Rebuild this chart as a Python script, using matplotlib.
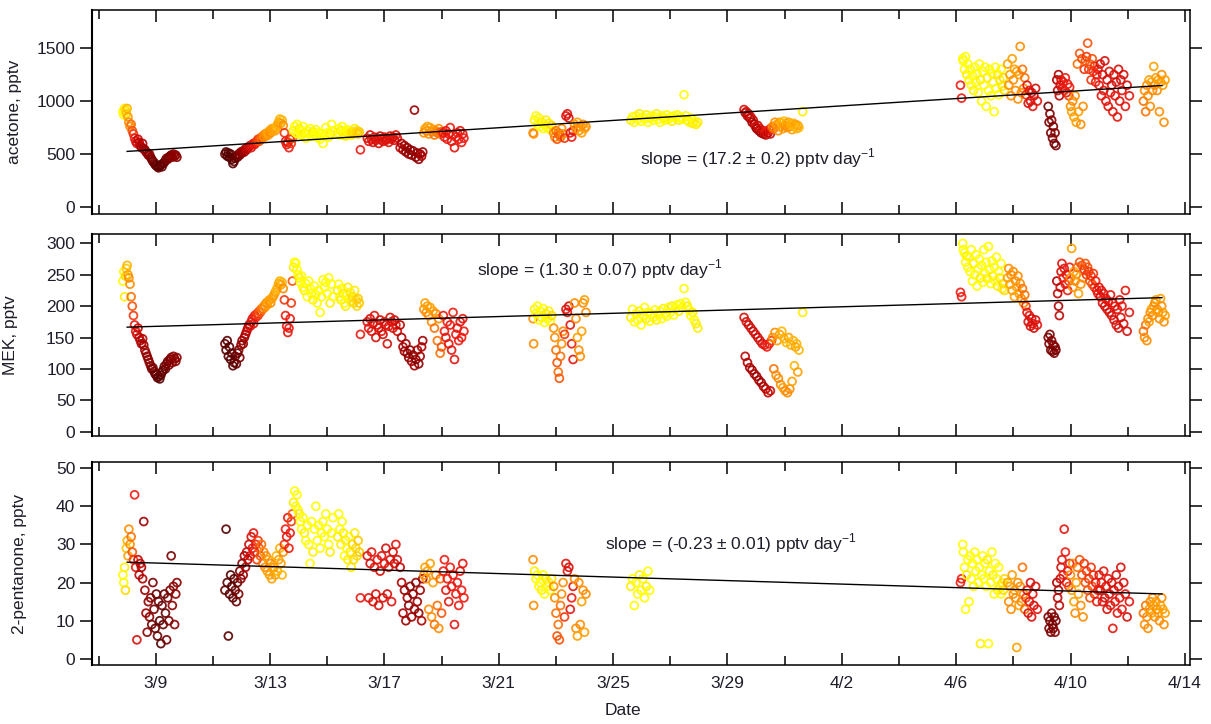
import numpy as np
import matplotlib
matplotlib.use("Agg")
import matplotlib.pyplot as plt
from matplotlib.colors import LinearSegmentedColormap

NA = np.nan

# sample time as day number counted from March 1 (4/1 = 32)
day = [
    # 3/8 - 3/9
    7.85, 7.88, 7.91, 7.94, 7.97, 8.00, 8.03, 8.06, 8.10, 8.14,
    8.18, 8.22, 8.26, 8.30, 8.34, 8.38, 8.42, 8.46, 8.50, 8.54,
    8.58, 8.62, 8.66, 8.70, 8.74, 8.78, 8.82, 8.86, 8.90, 8.94,
    8.98, 9.02, 9.06, 9.10, 9.14, 9.18, 9.22, 9.26, 9.30, 9.34,
    9.38, 9.42, 9.46, 9.50, 9.54, 9.58, 9.62, 9.66, 9.70, 9.74,
    # 3/11 - 3/13
    11.42, 11.46, 11.50, 11.54, 11.58, 11.62, 11.66, 11.70, 11.74, 11.78,
    11.82, 11.86, 11.90, 11.94, 11.98, 12.02, 12.06, 12.10, 12.14, 12.18,
    12.22, 12.26, 12.30, 12.34, 12.38, 12.42, 12.46, 12.50, 12.54, 12.58,
    12.62, 12.66, 12.70, 12.74, 12.78, 12.82, 12.86, 12.90, 12.94, 12.98,
    13.02, 13.06, 13.10, 13.14, 13.18, 13.22, 13.26, 13.30, 13.34, 13.38,
    13.42, 13.46, 13.50, 13.54, 13.58, 13.62, 13.66, 13.70, 13.74, 13.78,
    # 3/13 - 3/16
    13.82, 13.86, 13.90, 13.94, 13.98, 14.02, 14.06, 14.10, 14.15, 14.20,
    14.25, 14.30, 14.35, 14.40, 14.45, 14.50, 14.55, 14.60, 14.65, 14.70,
    14.75, 14.80, 14.85, 14.90, 14.95, 15.00, 15.05, 15.10, 15.15, 15.20,
    15.36, 15.40, 15.44, 15.48, 15.52, 15.56, 15.60, 15.64, 15.68, 15.72,
    15.76, 15.80, 15.84, 15.88, 15.92, 15.96, 16.00, 16.04, 16.08, 16.12,
    # 3/16 - 3/18
    16.16, 16.40, 16.45, 16.50, 16.55, 16.60, 16.65, 16.70, 16.75, 16.80,
    16.85, 16.90, 16.95, 17.00, 17.05, 17.10, 17.15, 17.20, 17.25, 17.30,
    17.35, 17.40, 17.45, 17.55, 17.60, 17.65, 17.70, 17.75, 17.80, 17.85,
    17.90, 17.95, 18.00, 18.05, 18.10, 18.15, 18.20, 18.25, 18.30, 18.34,
    # 3/18 - 3/19
    18.38, 18.42, 18.46, 18.50, 18.55, 18.60, 18.65, 18.70, 18.75, 18.80,
    18.85, 18.90, 18.95, 19.00, 19.06, 19.10, 19.15, 19.20, 19.25, 19.30,
    19.35, 19.40, 19.45, 19.50, 19.55, 19.60, 19.65, 19.70, 19.74, 19.78,
    # 3/22 - 3/24
    22.20, 22.22, 22.25, 22.30, 22.35, 22.40, 22.45, 22.50, 22.55, 22.60,
    22.65, 22.70, 22.75, 22.80, 22.85, 22.92, 22.96, 23.00, 23.04, 23.08,
    23.12, 23.16, 23.20, 23.25, 23.30, 23.35, 23.40, 23.45, 23.50, 23.55,
    23.60, 23.65, 23.70, 23.75, 23.80, 23.85, 23.90, 23.95, 24.00, 24.05,
    # 3/25 - 3/27
    25.62, 25.68, 25.74, 25.80, 25.86, 25.92, 25.98, 26.04, 26.10, 26.16,
    26.22, 26.28, 26.34, 26.40, 26.46, 26.52, 26.58, 26.64, 26.70, 26.76,
    26.82, 26.88, 26.94, 27.00, 27.06, 27.12, 27.18, 27.24, 27.30, 27.36,
    27.42, 27.48, 27.54, 27.60, 27.66, 27.72, 27.78, 27.84, 27.90, 27.96,
    # 3/29 - 3/31
    29.58, 29.62, 29.66, 29.70, 29.74, 29.78, 29.82, 29.86, 29.90, 29.94,
    29.98, 30.02, 30.06, 30.10, 30.14, 30.18, 30.22, 30.26, 30.30, 30.34,
    30.38, 30.42, 30.46, 30.50, 30.54, 30.58, 30.62, 30.66, 30.70, 30.74,
    30.78, 30.82, 30.86, 30.90, 30.94, 30.98, 31.02, 31.06, 31.10, 31.14,
    31.18, 31.22, 31.26, 31.30, 31.34, 31.38, 31.42, 31.46, 31.50, 31.63,
    # 4/6 - 4/7
    37.15, 37.19, 37.23, 37.25, 37.29, 37.33, 37.37, 37.41, 37.45, 37.49,
    37.53, 37.57, 37.61, 37.65, 37.69, 37.73, 37.77, 37.81, 37.85, 37.89,
    37.93, 37.97, 38.01, 38.05, 38.09, 38.13, 38.17, 38.21, 38.25, 38.29,
    38.33, 38.37, 38.41, 38.45, 38.49, 38.53, 38.57, 38.61, 38.65, 38.69,
    # 4/7 - 4/9
    38.80, 38.84, 38.88, 38.92, 38.96, 39.00, 39.04, 39.08, 39.12, 39.16,
    39.20, 39.24, 39.28, 39.32, 39.36, 39.40, 39.44, 39.48, 39.52, 39.56,
    39.60, 39.64, 39.68, 39.72, 39.78, 39.84, 40.22, 40.25, 40.28, 40.31,
    40.34, 40.37, 40.40, 40.43, 40.46, 40.49, 40.52, 40.55, 40.58, 40.61,
    40.64, 40.67, 40.70, 40.74, 40.78, 40.82, 40.86, 40.90, 40.94, 40.97,
    # 4/10 - 4/12
    41.00, 41.04, 41.08, 41.12, 41.16, 41.20, 41.24, 41.28, 41.32, 41.36,
    41.40, 41.44, 41.48, 41.52, 41.56, 41.60, 41.64, 41.68, 41.72, 41.76,
    41.80, 41.84, 41.88, 41.92, 41.96, 42.00, 42.04, 42.08, 42.12, 42.16,
    42.20, 42.24, 42.28, 42.32, 42.36, 42.40, 42.44, 42.48, 42.52, 42.56,
    42.60, 42.64, 42.68, 42.72, 42.76, 42.80, 42.86, 42.92, 42.98, 43.06,
    # 4/12 - 4/13
    43.55, 43.59, 43.63, 43.67, 43.71, 43.75, 43.79, 43.83, 43.87, 43.91,
    43.95, 43.99, 44.03, 44.07, 44.11, 44.15, 44.19, 44.23, 44.27, 44.31,
]

# colour variable of each sample (0 = yellow ... 1 = darkest red)
shade = [
    0.00, 0.00, 0.05, 0.10, 0.15, 0.20, 0.25, 0.30, 0.30, 0.35,
    0.40, 0.45, 0.50, 0.55, 0.60, 0.65, 0.70, 0.70, 0.75, 0.75,
    0.80, 0.80, 0.80, 0.85, 0.85, 0.85, 0.85, 0.90, 0.90, 0.90,
    0.95, 0.95, 0.95, 0.95, 1.00, 1.00, 0.95, 0.95, 0.95, 0.95,
    0.90, 0.90, 0.90, 0.90, 0.90, 0.85, 0.85, 0.85, 0.85, 0.85,

    0.95, 1.00, 1.00, 1.00, 1.00, 1.00, 1.00, 1.00, 1.00, 0.95,
    0.95, 0.95, 0.90, 0.90, 0.85, 0.85, 0.80, 0.80, 0.75, 0.70,
    0.70, 0.65, 0.60, 0.60, 0.55, 0.55, 0.50, 0.50, 0.45, 0.45,
    0.40, 0.40, 0.35, 0.35, 0.30, 0.30, 0.30, 0.25, 0.25, 0.25,
    0.30, 0.25, 0.25, 0.25, 0.25, 0.20, 0.20, 0.25, 0.20, 0.25,
    0.20, 0.30, 0.45, 0.50, 0.55, 0.55, 0.50, 0.50, 0.45, 0.40,

    0.05, 0.00, 0.00, 0.00, 0.00, 0.05, 0.00, 0.00, 0.00, 0.05,
    0.00, 0.00, 0.00, 0.00, 0.00, 0.05, 0.00, 0.00, 0.00, 0.00,
    0.00, 0.00, 0.00, 0.00, 0.00, 0.00, 0.00, 0.05, 0.00, 0.00,
    0.05, 0.00, 0.00, 0.05, 0.00, 0.05, 0.00, 0.05, 0.00, 0.05,
    0.00, 0.05, 0.05, 0.10, 0.10, 0.05, 0.10, 0.10, 0.15, 0.15,

    0.50, 0.55, 0.55, 0.60, 0.55, 0.60, 0.55, 0.60, 0.55, 0.60,
    0.60, 0.55, 0.60, 0.55, 0.60, 0.60, 0.55, 0.60, 0.55, 0.60,
    0.60, 0.55, 0.60, 0.70, 0.75, 0.75, 0.80, 0.80, 0.80, 0.85,
    0.85, 0.80, 0.85, 0.80, 0.85, 0.80, 0.85, 0.80, 0.75, 0.80,

    0.30, 0.25, 0.30, 0.25, 0.30, 0.25, 0.30, 0.25, 0.35, 0.30,
    0.35, 0.30, 0.35, 0.40, 0.50, 0.50, 0.55, 0.50, 0.55, 0.50,
    0.55, 0.50, 0.55, 0.50, 0.55, 0.50, 0.55, 0.50, 0.55, 0.50,

    0.30, 0.30, 0.05, 0.00, 0.00, 0.00, 0.00, 0.05, 0.00, 0.00,
    0.05, 0.00, 0.05, 0.00, 0.10, 0.30, 0.30, 0.35, 0.40, 0.35,
    0.40, 0.35, 0.30, 0.30, 0.45, 0.55, 0.55, 0.60, 0.55, 0.50,
    0.55, 0.30, 0.30, 0.25, 0.30, 0.30, 0.25, 0.30, 0.25, 0.30,

    0.05, 0.00, 0.00, 0.00, 0.00, 0.05, 0.00, 0.00, 0.00, 0.05,
    0.00, 0.00, 0.00, 0.00, 0.00, 0.05, 0.00, 0.00, 0.00, 0.05,
    0.00, 0.00, 0.00, 0.00, 0.05, 0.00, 0.00, 0.00, 0.05, 0.00,
    0.00, 0.00, 0.00, 0.05, 0.00, 0.00, 0.05, 0.00, 0.05, 0.05,

    0.60, 0.70, 0.60, 0.75, 0.65, 0.75, 0.60, 0.80, 0.65, 0.75,
    0.60, 0.80, 0.65, 0.75, 0.60, 0.80, 0.60, 0.75, 0.55, 0.70,
    0.50, 0.70, 0.50, 0.65, 0.45, 0.30, 0.35, 0.30, 0.30, 0.25,
    0.30, 0.25, 0.30, 0.20, 0.25, 0.20, 0.30, 0.20, 0.30, 0.25,
    0.30, 0.20, 0.25, 0.20, 0.20, 0.25, 0.20, 0.25, 0.20, 0.05,

    0.50, 0.50, 0.00, 0.00, 0.00, 0.00, 0.05, 0.00, 0.00, 0.00,
    0.00, 0.00, 0.05, 0.00, 0.00, 0.00, 0.00, 0.00, 0.05, 0.00,
    0.00, 0.00, 0.00, 0.00, 0.05, 0.00, 0.00, 0.00, 0.00, 0.05,
    0.00, 0.00, 0.00, 0.05, 0.00, 0.05, 0.00, 0.05, 0.10, 0.10,

    0.25, 0.30, 0.25, 0.30, 0.25, 0.30, 0.25, 0.30, 0.25, 0.30,
    0.25, 0.30, 0.30, 0.35, 0.30, 0.35, 0.45, 0.55, 0.60, 0.55,
    0.60, 0.60, 0.55, 0.60, 0.60, 0.55, 0.90, 0.90, 0.90, 0.90,
    0.85, 0.90, 0.90, 0.90, 0.85, 0.90, 0.75, 0.70, 0.75, 0.70,
    0.65, 0.60, 0.55, 0.50, 0.55, 0.50, 0.55, 0.50, 0.45, 0.50,

    0.30, 0.25, 0.30, 0.25, 0.30, 0.25, 0.35, 0.25, 0.40, 0.30,
    0.40, 0.30, 0.45, 0.40, 0.45, 0.40, 0.45, 0.40, 0.45, 0.40,
    0.45, 0.45, 0.50, 0.50, 0.50, 0.55, 0.60, 0.55, 0.60, 0.55,
    0.60, 0.55, 0.60, 0.55, 0.60, 0.55, 0.60, 0.55, 0.60, 0.55,
    0.60, 0.55, 0.60, 0.55, 0.60, 0.55, 0.60, 0.55, 0.60, 0.55,

    0.35, 0.30, 0.35, 0.30, 0.30, 0.25, 0.30, 0.25, 0.30, 0.25,
    0.30, 0.25, 0.30, 0.25, 0.30, 0.25, 0.30, 0.25, 0.30, 0.25,
]

acetone = [
    900, 870, 930, 910, 880, 930, 850, 800, 760, 780,
    720, 690, 650, 620, 600, 640, 610, 580, 560, 600,
    550, 540, 520, 510, 490, 500, 470, 450, 430, 420,
    400, 390, 380, 370, 385, 400, 380, 410, 420, 440,
    460, 450, 470, 480, 490, 470, 500, 480, 490, 470,

    500, 520, 480, 510, 470, 500, 450, 410, 430, 460,
    480, 470, 500, 490, 520, 510, 530, 520, 550, 540,
    560, 570, 580, 560, 590, 600, 590, 610, 620, 640,
    620, 650, 640, 670, 660, 690, 670, 700, 680, 720,
    700, 740, 720, 740, 720, 760, 780, 800, 830, 790,
    820, 770, 700, 620, 590, 610, 560, 640, 600, 650,

    720, 760, 700, 780, 690, 740, 720, 680, 760, 700,
    650, 720, 690, 740, 670, 710, 680, 730, 660, 700,
    640, 690, 600, 680, 750, 700, 660, 690, 780, 720,
    700, 740, 680, 720, 760, 690, 710, 670, 730, 690,
    720, 700, 680, 710, 690, 740, 700, 720, 690, 710,

    540, 650, 620, 680, 640, 610, 660, 630, 650, 600,
    670, 640, 620, 660, 630, 650, 610, 670, 640, 660,
    630, 680, 650, 560, 600, 540, 580, 520, 560, 500,
    540, 490, 530, 915, 470, 510, 450, 500, 480, 520,

    700, 740, 720, 760, 690, 750, 710, 730, 680, 720,
    700, 740, 690, 710, 700, 660, 720, 640, 690, 750,
    620, 680, 560, 660, 700, 640, 720, 610, 690, 650,

    700, 690, 820, 860, 780, 840, 760, 800, 740, 780,
    820, 750, 790, 730, 770, 700, 660, 720, 640, 700,
    680, 660, 740, 690, 650, 860, 880, 840, 700, 660,
    720, 780, 740, 800, 720, 760, 700, 780, 740, 760,

    820, 850, 800, 860, 830, 880, 810, 850, 830, 870,
    800, 840, 860, 820, 850, 880, 830, 800, 860, 840,
    820, 870, 830, 850, 810, 860, 840, 870, 820, 850,
    830, 1060, 860, 820, 800, 840, 790, 810, 780, 800,

    920, 890, 900, 860, 880, 840, 850, 800, 820, 780,
    760, 740, 770, 720, 740, 700, 720, 690, 710, 680,
    720, 700, 730, 690, 750, 760, 740, 800, 770, 780,
    720, 800, 760, 790, 740, 810, 770, 790, 750, 800,
    760, 780, 730, 790, 760, 780, 740, 770, 750, 900,

    1150, 1028, 1400, 1380, 1300, 1420, 1250, 1350, 1200, 1300,
    1150, 1240, 1100, 1320, 1180, 1260, 1080, 1350, 1200, 1000,
    1280, 1150, 1320, 950, 1220, 1100, 1300, 1050, 1260, 1180,
    900, 1320, 1120, 1250, 1060, 1200, 1300, 1140, 1220, 1100,

    1350, 1150, 1250, 1050, 1400, 1200, 1300, 1100, 1280, 1020,
    1250, 1516, 1080, 1300, 1120, 1220, 1060, 1150, 980, 1100,
    1000, 1080, 950, 1050, 1120, 1000, 950, 800, 880, 700,
    820, 650, 760, 600, 700, 580, 1200, 1100, 1250, 1050,
    1150, 1200, 1120, 1180, 1100, 1220, 1080, 1160, 1050, 1130,

    950, 900, 1000, 850, 1050, 800, 1350, 900, 1450, 780,
    1400, 950, 1300, 1380, 1420, 1547, 1300, 1350, 1200, 1400,
    1280, 1330, 1180, 1250, 1300, 1150, 1350, 1050, 1250, 1100,
    1380, 1000, 1200, 950, 1280, 1080, 1150, 900, 1250, 1050,
    1180, 850, 1300, 1000, 1200, 1100, 1250, 950, 1150, 1050,

    1000, 1100, 900, 1150, 1050, 1200, 950, 1180, 1100, 1327,
    1150, 1220, 1100, 1200, 900, 1180, 1250, 1150, 800, 1200,
]

mek = [
    240, 255, 215, 248, 260, 265, 250, 245, 235, 215,
    200, 185, 170, 160, 155, 165, 150, 145, 140, 148,
    138, 130, 125, 120, 115, 110, 105, 100, 102, 96,
    92, 90, 86, 88, 84, 90, 95, 98, 104, 100,
    108, 112, 106, 115, 118, 110, 120, 116, 112, 118,

    140, 130, 145, 120, 135, 115, 125, 105, 110, 120,
    108, 125, 130, 118, 138, 145, 140, 150, 155, 160,
    165, 170, 168, 175, 180, 172, 185, 182, 188, 185,
    192, 190, 196, 195, 200, 198, 205, 202, 208, 210,
    205, 212, 215, 218, 222, 226, 230, 236, 240, 234,
    238, 228, 210, 185, 168, 158, 165, 180, 205, 240,

    262, 270, 268, 258, 250, 245, 238, 248, 230, 225,
    236, 215, 240, 228, 220, 210, 232, 218, 205, 225,
    190, 215, 242, 230, 238, 220, 245, 205, 235, 215,
    225, 235, 215, 210, 228, 220, 205, 200, 218, 230,
    212, 222, 208, 215, 205, 225, 210, 200, 212, 205,

    155, 175, 165, 180, 160, 172, 185, 150, 170, 165,
    178, 160, 155, 175, 170, 140, 168, 182, 175, 165,
    178, 170, 160, 170, 150, 135, 128, 140, 125, 118,
    130, 112, 122, 105, 115, 130, 108, 120, 135, 145,

    195, 205, 190, 200, 185, 198, 175, 192, 165, 188,
    145, 180, 125, 135, 185, 160, 150, 175, 140, 170,
    130, 190, 115, 155, 165, 145, 175, 150, 180, 160,

    180, 140, 195, 188, 200, 178, 192, 182, 196, 174,
    188, 180, 192, 176, 185, 165, 150, 130, 110, 95,
    85, 120, 140, 160, 155, 195, 190, 200, 170, 140,
    115, 205, 180, 150, 130, 120, 160, 205, 210, 190,

    182, 195, 175, 188, 178, 192, 170, 185, 198, 180,
    190, 176, 188, 182, 194, 178, 186, 192, 180, 196,
    188, 184, 198, 190, 200, 186, 196, 202, 192, 204,
    198, 228, 206, 200, 194, 185, 190, 178, 172, 165,

    182, 120, 175, 110, 170, 102, 165, 98, 160, 92,
    155, 88, 150, 82, 145, 78, 140, 72, 138, 68,
    135, 62, 140, 65, 145, 150, 100, 158, 90, 145,
    85, 155, 75, 160, 70, 148, 65, 142, 62, 150,
    68, 138, 80, 145, 105, 135, 140, 95, 130, 190,

    222, 215, 300, 290, 285, 270, 280, 262, 278, 255,
    290, 240, 268, 250, 282, 232, 260, 275, 245, 265,
    238, 290, 252, 270, 244, 295, 258, 236, 272, 248,
    262, 240, 278, 232, 255, 245, 268, 228, 236, 225,

    245, 260, 235, 250, 225, 255, 215, 240, 230, 248,
    220, 236, 212, 228, 205, 218, 200, 190, 175, 185,
    168, 180, 172, 165, 178, 170, 150, 140, 155, 130,
    145, 128, 138, 125, 135, 130, 240, 220, 200, 185,
    230, 255, 268, 245, 260, 235, 250, 225, 240, 262,

    245, 292, 230, 255, 240, 250, 262, 220, 270, 235,
    265, 245, 258, 268, 250, 262, 255, 240, 248, 235,
    252, 230, 240, 225, 220, 230, 215, 225, 205, 220,
    200, 212, 195, 208, 190, 218, 185, 205, 178, 200,
    170, 195, 165, 210, 182, 200, 172, 225, 160, 190,

    160, 150, 170, 145, 180, 175, 190, 195, 185, 200,
    205, 210, 195, 190, 180, 212, 200, 190, 175, 185,
]

pentanone = [
    22, 20, 24, 18, 29, 31, 27, 34, 30, 32,
    28, 26, 43, 24, 5, 26, 22, 25, 24, 21,
    36, 18, 12, 7, 15, 11, 16, 9, 20, 13,
    8, 17, 6, 15, 10, 4, 14, 9, 17, 12,
    5, 16, 10, 18, 27, 14, 19, 9, 17, 20,

    18, 34, 20, 6, 17, 22, 19, 16, 21, 18,
    15, 20, 17, 23, 21, 25, 22, 27, 24, 28,
    26, 30, 27, 32, 29, 33, 28, 30, 26, 31,
    29, 27, 30, 25, 28, 24, 27, 23, 26, 22,
    25, 21, 24, 24, 22, 27, 23, 26, 29, 25,
    22, 28, 30, 34, 32, 37, 29, 33, 36, 38,

    41, 44, 40, 43, 39, 38, 36, 34, 37, 33,
    31, 35, 30, 25, 36, 28, 34, 40, 31, 35,
    29, 33, 36, 32, 38, 34, 30, 28, 33, 37,
    32, 38, 34, 30, 36, 33, 27, 31, 29, 26,
    32, 28, 24, 30, 26, 33, 29, 27, 31, 28,

    16, 27, 16, 25, 28, 15, 24, 17, 26, 14,
    23, 27, 16, 25, 29, 17, 24, 26, 15, 28,
    25, 30, 26, 24, 20, 12, 18, 10, 16, 14,
    19, 11, 17, 13, 20, 15, 12, 18, 10, 21,

    22, 24, 21, 23, 13, 25, 11, 20, 9, 22,
    14, 8, 21, 12, 23, 26, 18, 21, 15, 24,
    19, 22, 9, 17, 20, 14, 23, 18, 25, 16,

    26, 14, 23, 21, 22, 19, 20, 18, 22, 17,
    21, 19, 20, 18, 21, 19, 16, 12, 6, 9,
    5, 14, 17, 20, 11, 25, 23, 24, 13, 16,
    19, 21, 8, 6, 20, 9, 15, 18, 7, 17,

    19, 21, 14, 20, 17, 22, 18, 21, 16, 19,
    23, 18, NA, NA, NA, NA, NA, NA, NA, NA,
    NA, NA, NA, NA, NA, NA, NA, NA, NA, NA,
    NA, NA, NA, NA, NA, NA, NA, NA, NA, NA,

    NA, NA, NA, NA, NA, NA, NA, NA, NA, NA,
    NA, NA, NA, NA, NA, NA, NA, NA, NA, NA,
    NA, NA, NA, NA, NA, NA, NA, NA, NA, NA,
    NA, NA, NA, NA, NA, NA, NA, NA, NA, NA,
    NA, NA, NA, NA, NA, NA, NA, NA, NA, NA,

    20, 21, 30, 28, 24, 13, 22, 26, 15, 27,
    21, 25, 19, 28, 23, 26, 20, 24, 4, 22,
    27, 21, 25, 19, 26, 4, 23, 20, 28, 22,
    17, 25, 21, 18, 24, 19, 17, 20, 18, 21,

    20, 15, 19, 13, 22, 17, 18, 16, 3, 20,
    14, 19, 15, 24, 17, 13, 16, 18, 12, 15,
    20, 11, 17, 14, 19, 13, 11, 8, 10, 7,
    12, 9, 8, 11, 7, 10, 20, 16, 18, 14,
    21, 24, 26, 22, 34, 28, 20, 23, 19, 25,

    22, 18, 25, 15, 12, 20, 24, 17, 26, 14,
    22, 11, 25, 20, 23, 18, 21, 16, 24, 19,
    22, 17, 20, 15, 18, 22, 18, 20, 15, 23,
    16, 19, 13, 21, 17, 14, 20, 8, 18, 15,
    22, 12, 19, 16, 24, 13, 20, 17, 11, 15,

    12, 9, 14, 11, 8, 13, 15, 12, 16, 14,
    11, 15, 13, 12, 10, 14, 16, 13, 9, 12,
]

series = [acetone, mek, pentanone]
y_labels = ["acetone, pptv", "MEK, pptv", "2-pentanone, pptv"]
y_ticks = [[0, 500, 1000, 1500], [0, 50, 100, 150, 200, 250, 300], [0, 10, 20, 30, 40, 50]]
y_limits = [(-66, 1860), (-7, 315), (-1.6, 51.6)]

# linear fits: slope (per day), its uncertainty, value at the first fit day
fit_slope = [17.2, 1.30, -0.23]
fit_error = [0.2, 0.07, 0.01]
fit_decimals = [1, 2, 2]
fit_value_at_start = [525, 166.5, 25.35]
fit_days = [8.0, 44.2]
note_pos = [(25.94, 405), (20.24, 249.5), (24.72, 28.75)]

tick_days = list(range(7, 46, 2))

plt.rcParams["font.family"] = ["Liberation Sans", "DejaVu Sans"]
plt.rcParams["mathtext.fontset"] = "custom"
plt.rcParams["mathtext.rm"] = "Liberation Sans"
plt.rcParams["font.size"] = 12.5
text_color = "#1e1e2a"

cmap = LinearSegmentedColormap.from_list(
    "heat",
    [(0.0, "#ffff00"), (0.15, "#ffc800"), (0.3, "#ff8c00"),
     (0.5, "#ee1a10"), (0.75, "#b00000"), (1.0, "#560000")])


def date_label(d):
    if d <= 31:
        return f"3/{d}"
    return f"4/{d - 31}"


fig = plt.figure(figsize=(12.11, 7.24), dpi=100)
W, H = 1211.0, 724.0
boxes = [(10, 214), (234, 436), (462, 665)]
label_x = [-0.064, -0.067, -0.059]

for i, (top, bottom) in enumerate(boxes):
    ax = fig.add_axes([92 / W, 1 - bottom / H, 1098 / W, (bottom - top) / H])
    vals = np.array(series[i], dtype=float)
    t = np.array(day)
    c = np.array(shade)
    ok = ~np.isnan(vals)
    ax.scatter(t[ok], vals[ok], s=32, facecolors="none",
               edgecolors=cmap(c[ok]), linewidths=1.3, alpha=0.9, zorder=2)

    # fitted trend line
    fx = np.array(fit_days)
    fy = fit_value_at_start[i] + fit_slope[i] * (fx - fit_days[0])
    ax.plot(fx, fy, color="black", lw=1.0, zorder=3)

    nd = fit_decimals[i]
    note = (f"slope = ({fit_slope[i]:.{nd}f} \u00b1 {fit_error[i]:.{nd}f}) "
            "pptv day$^{\\mathrm{-1}}$")
    ax.text(note_pos[i][0], note_pos[i][1], note, color=text_color,
            fontsize=12.5, ha="left", va="baseline", zorder=4)

    ax.set_xlim(6.77, 45.18)
    ax.set_ylim(*y_limits[i])
    ax.set_yticks(y_ticks[i])
    ax.set_ylabel(y_labels[i], color=text_color, fontsize=12.5)
    ax.yaxis.set_label_coords(label_x[i], 0.5)

    major = [d for d in tick_days if (d - 9) % 4 == 0]
    minor = [d for d in tick_days if (d - 9) % 4 != 0]
    ax.set_xticks(major)
    ax.set_xticks(minor, minor=True)
    if i == 2:
        ax.set_xticklabels([date_label(d) for d in major])
        ax.set_xlabel("Date", color=text_color, fontsize=12.5)
        ax.xaxis.set_label_coords((623 - 92) / 1098, -0.185)
    else:
        ax.set_xticklabels([])

    ax.tick_params(axis="x", which="both", direction="in", top=True,
                   bottom=True, width=1.1, colors="black", labelcolor=text_color,
                   pad=8)
    ax.tick_params(axis="x", which="major", length=8.6)
    ax.tick_params(axis="x", which="minor", length=6.5)
    ax.tick_params(axis="y", direction="out", left=True, right=True,
                   length=8.6, width=1.1, pad=3.5, labelcolor=text_color)
    for sp in ax.spines.values():
        sp.set_linewidth(1.1)
    ax.spines["left"].set_linewidth(1.5)

fig.savefig("out.png", dpi=100)
